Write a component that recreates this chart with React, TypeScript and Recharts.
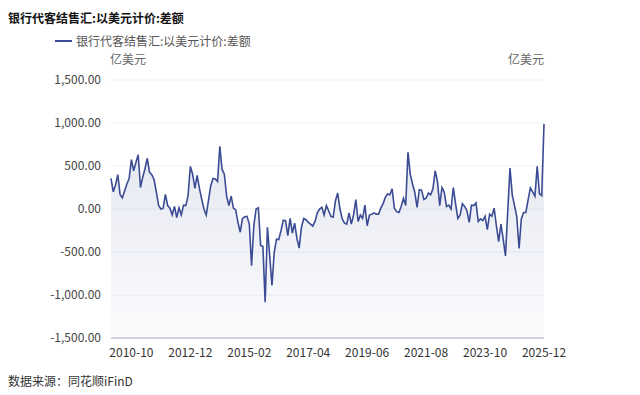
import { ComposedChart, Area, XAxis, YAxis, CartesianGrid } from "recharts";

const TITLE = "银行代客结售汇:以美元计价:差额";
const SERIES_NAME = "银行代客结售汇:以美元计价:差额";
const UNIT = "亿美元";
const SOURCE = "数据来源：同花顺iFinD";

// monthly, 2010-01 .. 2025-12
const START_YEAR = 2010;
const MONTHS = Array.from({ length: 192 }, (_, i) => {
  const y = START_YEAR + Math.floor(i / 12);
  const m = (i % 12) + 1;
  return `${y}-${m < 10 ? "0" + m : m}`;
});

const VALUES = [
  // 2010-01 .. 2013-11
  357, 200, 280, 400, 170, 130, 210, 290, 355, 575, 445, 540, 630, 250, 370, 470,
  590, 425, 400, 340, 195, 40, 0, 10, 170, 40, 10, -70, 30, -100, 15, -70, 45, 40,
  155, 495, 405, 240, 390, 240, 115, 0, -70, 100, 270, 355, 350,
  // 2013-12 .. 2017-12
  320, 730, 460, 405, 150, 40, 150, 10, -10, -155, -270, -110, -90, -85, -175,
  -660, -195, 0, 15, -425, -435, -1085, -213, -545, -890, -505, -350, -355, -250,
  -130, -135, -310, -110, -280, -165, -340, -455, -215, -110, -125, -155, -175,
  -200, -145, -45, 0, 20, -70, 40,
  // 2018-01 .. 2022-01
  -20, -85, -95, 95, 185, 0, -115, -165, -175, -45, -175, -70, 110, -145, -70,
  -110, 45, -195, -70, -60, -45, -60, -60, 10, 60, 135, 175, 165, 235, 10, -30,
  -40, 30, 125, 40, 660, 405, 290, 195, 20, 225, 220, 110, 125, 185, 165, 235,
  445, 320,
  // 2022-02 .. 2025-12
  40, 250, 195, 30, 45, 0, 250, 60, -110, -70, 60, 30, -20, -155, 45, 40, 70,
  -145, -115, -135, -85, -240, -60, -85, 10, -195, -380, -175, -350, -545, -30,
  475, 165, 40, -90, -460, -115, -40, -40, 110, 245, 200, 150, 495, 175, 155, 990,
];

const Y_TICKS = [-1500, -1000, -500, 0, 500, 1000, 1500];
const X_LABELS = ["2010-10", "2012-12", "2015-02", "2017-04", "2019-06", "2021-08", "2023-10", "2025-12"];

const data = MONTHS.map((month, i) => ({ month, value: VALUES[i] }));

const FONT = '"Noto Sans CJK SC", "Noto Sans", sans-serif';
const LINE_COLOR = "#3b4c94";

const fmt = (v: number) =>
  v.toLocaleString("en-US", { minimumFractionDigits: 2, maximumFractionDigits: 2 });

export default function App() {
  return (
    <div
      style={{
        position: "absolute",
        left: 0,
        top: 0,
        width: 640,
        height: 395,
        background: "#fff",
        fontFamily: FONT,
      }}
    >
      <div style={{ position: "absolute", left: 8, top: 9, fontSize: 12, fontWeight: "bold", color: "#111" }}>
        {TITLE}
      </div>

      {/* legend */}
      <div style={{ position: "absolute", left: 55, top: 32, display: "flex", alignItems: "center" }}>
        <div style={{ width: 17, height: 2, background: LINE_COLOR, marginRight: 4 }} />
        <span style={{ fontSize: 12, color: "#555" }}>{SERIES_NAME}</span>
      </div>

      <div style={{ position: "absolute", left: 110, top: 50, fontSize: 12, color: "#666" }}>{UNIT}</div>
      <div style={{ position: "absolute", right: 96, top: 50, fontSize: 12, color: "#666" }}>{UNIT}</div>

      <div style={{ position: "absolute", left: 8, top: 372, fontSize: 12, color: "#333" }}>{SOURCE}</div>

      <div style={{ position: "absolute", left: 0, top: 0 }}>
        <ComposedChart
          width={640}
          height={395}
          data={data}
          margin={{ top: 80, right: 36, bottom: 27, left: 51 }}
        >
          <defs>
            <linearGradient id="fillGrad" x1="0" y1="0" x2="0" y2="1">
              <stop offset="0%" stopColor={LINE_COLOR} stopOpacity={0.14} />
              <stop offset="100%" stopColor={LINE_COLOR} stopOpacity={0.02} />
            </linearGradient>
          </defs>
          <CartesianGrid yAxisId="left" vertical={false} stroke="#eef0f5" />
          <XAxis
            dataKey="month"
            interval={0}
            tickLine={false}
            axisLine={{ stroke: "#a9b1c9" }}
            tick={{ fontSize: 12, fill: "#333", fontFamily: FONT }}
            tickMargin={4}
            height={30}
            tickFormatter={(v: string) => (X_LABELS.includes(v) ? v : "")}
          />
          <YAxis
            yAxisId="left"
            domain={[-1500, 1500]}
            ticks={Y_TICKS}
            tickFormatter={fmt}
            axisLine={false}
            tickLine={false}
            width={60}
            tickMargin={4}
            tick={{ fontSize: 12, fill: "#444", fontFamily: FONT }}
          />
          <YAxis
            yAxisId="right"
            orientation="right"
            domain={[-1500, 1500]}
            ticks={Y_TICKS}
            tickFormatter={fmt}
            axisLine={false}
            tickLine={false}
            width={60}
            tickMargin={5}
            tick={{ fontSize: 12, fill: "#444", fontFamily: FONT, textAnchor: "start" }}
          />
          <Area
            yAxisId="left"
            type="linear"
            dataKey="value"
            stroke={LINE_COLOR}
            strokeWidth={1.6}
            fill="url(#fillGrad)"
            fillOpacity={1}
            baseValue={-1500}
            dot={false}
            activeDot={false}
            isAnimationActive={false}
          />
        </ComposedChart>
      </div>
    </div>
  );
}
